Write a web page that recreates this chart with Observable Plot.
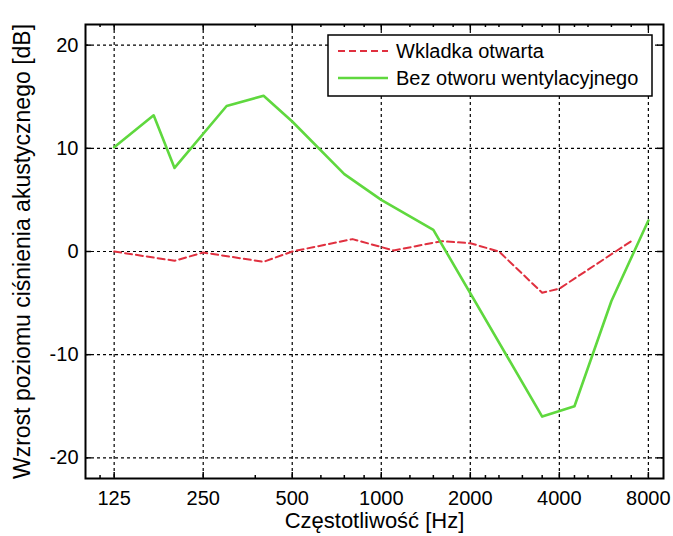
<!DOCTYPE html>
<html>
<head>
<meta charset="utf-8">
<script src="https://cdn.jsdelivr.net/npm/d3@7"></script>
<script src="https://cdn.jsdelivr.net/npm/@observablehq/plot@0.6"></script>
<style>
  html, body { margin: 0; padding: 0; background: #fff; }
  #chart { position: relative; width: 673px; height: 536px; }
</style>
</head>
<body>
<div id="chart"></div>
<script>
// ---- data ----
const freqRed = [125, 200, 250, 400, 500, 800, 1100, 1600, 2000, 2500, 3500, 4000, 7000];
const valRed  = [0, -0.9, -0.1, -1.0, 0, 1.2, 0.1, 1.0, 0.8, 0, -4.0, -3.6, 1.0];
const freqGreen = [125, 170, 200, 300, 400, 500, 750, 1000, 1500, 3500, 4500, 6000, 8000];
const valGreen  = [10.1, 13.2, 8.1, 14.1, 15.1, 12.6, 7.5, 5.0, 2.1, -16.0, -15.0, -4.8, 3.0];
const seriesNames = ["Wkladka otwarta", "Bez otworu wentylacyjnego"];
const xTicks = [125, 250, 500, 1000, 2000, 4000, 8000];
const xTickLabels = ["125", "250", "500", "1000", "2000", "4000", "8000"];
const xMinorTicks = [112, 375, 625, 750, 875, 1250, 1500, 1750, 2250, 2500, 3000, 3500, 4500, 5000, 6000, 7000];
const yTicks = [-20, -10, 0, 10, 20];
const yTickLabels = ["-20", "-10", "0", "10", "20"];
const xLabel = "Częstotliwość [Hz]";
const yLabel = "Wzrost poziomu ciśnienia akustycznego [dB]";

const red = freqRed.map((f, i) => ({f, v: valRed[i]}));
const green = freqGreen.map((f, i) => ({f, v: valGreen[i]}));
const xTickData = xTicks.map((t, i) => ({t, label: xTickLabels[i]}));
const yTickData = yTicks.map((t, i) => ({t, label: yTickLabels[i]}));

const W = 673, H = 536;
const mL = 85, mR = 10, mT = 24, mB = 58;
const innerW = W - mL - mR, innerH = H - mT - mB;
const redColor = "#e0303f";
const greenColor = "#5fd83e";
const font = "'Liberation Sans', Arial, Helvetica, sans-serif";

const plot = Plot.plot({
  width: W, height: H,
  marginLeft: mL, marginRight: mR, marginTop: mT, marginBottom: mB,
  style: {fontFamily: font, fontSize: "20px", color: "#000", background: "#fff"},
  x: {type: "log", domain: [100, 9000], axis: null},
  y: {domain: [-22, 22], axis: null},
  marks: [
    // grid
    Plot.ruleX(xTicks, {x: d => d, stroke: "#000", strokeWidth: 1.2, strokeDasharray: "3,3"}),
    Plot.ruleY(yTicks, {y: d => d, stroke: "#000", strokeWidth: 1.2, strokeDasharray: "3,3"}),
    // inward ticks (bottom / top)
    Plot.ruleX(xTicks, {x: d => d, stroke: "#000", strokeWidth: 1.5, insetTop: innerH - 6}),
    Plot.ruleX(xTicks, {x: d => d, stroke: "#000", strokeWidth: 1.5, insetBottom: innerH - 6}),
    Plot.ruleX(xMinorTicks, {x: d => d, stroke: "#000", strokeWidth: 1.5, insetTop: innerH - 3}),
    Plot.ruleX(xMinorTicks, {x: d => d, stroke: "#000", strokeWidth: 1.5, insetBottom: innerH - 3}),
    // inward ticks (left / right)
    Plot.ruleY(yTicks, {y: d => d, stroke: "#000", strokeWidth: 1.5, insetRight: innerW - 6}),
    Plot.ruleY(yTicks, {y: d => d, stroke: "#000", strokeWidth: 1.5, insetLeft: innerW - 6}),
    // data
    Plot.line(red, {x: "f", y: "v", stroke: redColor, strokeWidth: 2, strokeDasharray: "7,4"}),
    Plot.line(green, {x: "f", y: "v", stroke: greenColor, strokeWidth: 2.6}),
    // tick labels
    Plot.text(xTickData, {x: "t", text: "label", frameAnchor: "bottom", lineAnchor: "top", dy: 12, fontSize: 20, fill: "#000"}),
    Plot.text(yTickData, {y: "t", text: "label", frameAnchor: "left", textAnchor: "end", dx: -7, fontSize: 20, fill: "#000"}),
    // axis titles
    Plot.text([xLabel], {text: d => d, frameAnchor: "bottom", textAnchor: "middle", lineAnchor: "middle", dy: 42, fontSize: 22, fill: "#000"}),
    Plot.text([yLabel], {text: d => d, frameAnchor: "left", textAnchor: "middle", lineAnchor: "middle", dx: -63, dy: 0, rotate: -90, fontSize: 23, fill: "#000"}),
    Plot.frame({stroke: "#000", strokeWidth: 2})
  ]
});
document.getElementById("chart").appendChild(plot);

// legend (drawn on top of the plot svg)
const svg = d3.select(plot);
const lg = svg.append("g").attr("font-family", font).attr("font-size", "20px").attr("text-anchor", "start");
lg.append("rect").attr("x", 328).attr("y", 35).attr("width", 324).attr("height", 61)
  .attr("fill", "#fff").attr("stroke", "#000").attr("stroke-width", 1.5);
const entries = [
  {name: seriesNames[0], color: redColor, dash: "7,4", w: 2, y: 51},
  {name: seriesNames[1], color: greenColor, dash: "none", w: 2.6, y: 78}
];
entries.forEach(e => {
  lg.append("line").attr("x1", 338).attr("x2", 388).attr("y1", e.y).attr("y2", e.y)
    .attr("stroke", e.color).attr("stroke-width", e.w).attr("stroke-dasharray", e.dash)
    .attr("fill", "none");
  lg.append("text").attr("x", 396).attr("y", e.y + 7).attr("fill", "#000")
    .attr("text-anchor", "start").text(e.name);
});
</script>
</body>
</html>
